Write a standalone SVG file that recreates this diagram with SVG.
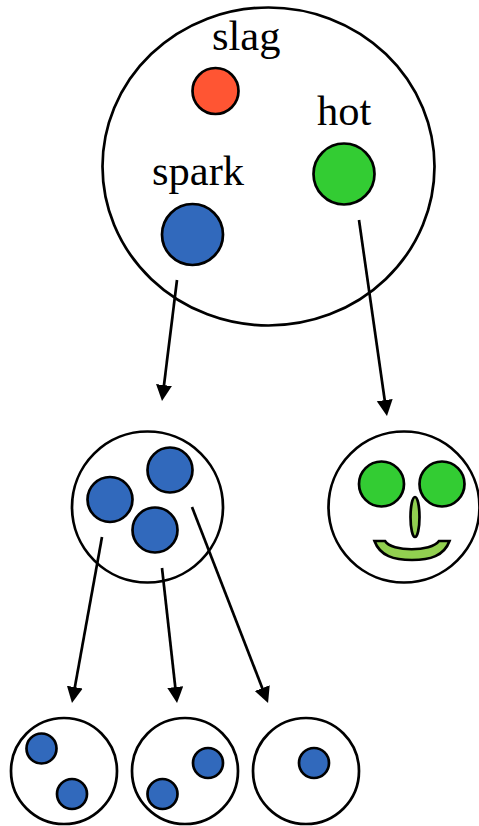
<svg xmlns="http://www.w3.org/2000/svg" width="479" height="826" viewBox="0 0 479 826">
<style>
.o{fill:#fff;stroke:#000;stroke-width:2.7}
.b{fill:#3169bc;stroke:#000;stroke-width:2.7}
.g{fill:#33cc33;stroke:#000;stroke-width:2.7}
.r{fill:#ff5533;stroke:#000;stroke-width:2.7}
.l{fill:#92d050;stroke:#000;stroke-width:2.7}
.c{stroke:#000;stroke-width:2.7;fill:none;marker-end:url(#a)}
text{font-family:"Liberation Serif","Times New Roman",serif;font-size:42.500px;fill:#000}
</style>
<defs>
<marker id="a" markerUnits="userSpaceOnUse" markerWidth="18" markerHeight="18" refX="12" refY="8" orient="auto">
<path d="M0 0L16 8L0 16Z" fill="#000"/>
</marker>
</defs>
<rect width="479" height="826" fill="#fff"/>
<g id="top">
<ellipse class="o" cx="268.500" cy="166.500" rx="166" ry="159"/>
<circle class="r" cx="215.500" cy="91" r="23"/>
<circle class="g" cx="344" cy="174" r="30.500"/>
<circle class="b" cx="192.500" cy="234.500" r="30.500"/>
<text x="212" y="49.500">slag</text>
<text x="317" y="124.500">hot</text>
<text x="152" y="184.500">spark</text>
</g>
<g id="mid">
<circle class="o" cx="147.500" cy="507" r="75.500"/>
<circle class="b" cx="170" cy="470" r="22.500"/>
<circle class="b" cx="110" cy="499.500" r="22.500"/>
<circle class="b" cx="155" cy="530" r="22.500"/>
</g>
<g id="face">
<circle class="o" cx="404" cy="507" r="75.500"/>
<circle class="g" cx="381.500" cy="484" r="22.500"/>
<circle class="g" cx="442" cy="484" r="22.500"/>
<ellipse class="l" cx="415" cy="517" rx="4.500" ry="20"/>
<path class="l" d="M374.500 541H385C392 552 431 552 439 541H449.500C444 556 430 560 412 560C394 560 380 556 374.500 541Z"/>
</g>
<g id="leaf1">
<circle class="o" cx="64" cy="771" r="53"/>
<circle class="b" cx="41.500" cy="748.500" r="15"/>
<circle class="b" cx="72" cy="794" r="15"/>
</g>
<g id="leaf2">
<circle class="o" cx="185" cy="771" r="53"/>
<circle class="b" cx="208" cy="763" r="15"/>
<circle class="b" cx="162.500" cy="794" r="15"/>
</g>
<g id="leaf3">
<circle class="o" cx="306" cy="771" r="53"/>
<circle class="b" cx="314" cy="763" r="15"/>
</g>
<g id="connectors">
<line class="c" x1="177" y1="280" x2="162.500" y2="397"/>
<line class="c" x1="359" y1="220" x2="386.400" y2="412"/>
<line class="c" x1="102" y1="537" x2="72.700" y2="699"/>
<line class="c" x1="162" y1="568" x2="176.600" y2="699"/>
<line class="c" x1="192" y1="507" x2="266.600" y2="699.300"/>
</g>
</svg>
